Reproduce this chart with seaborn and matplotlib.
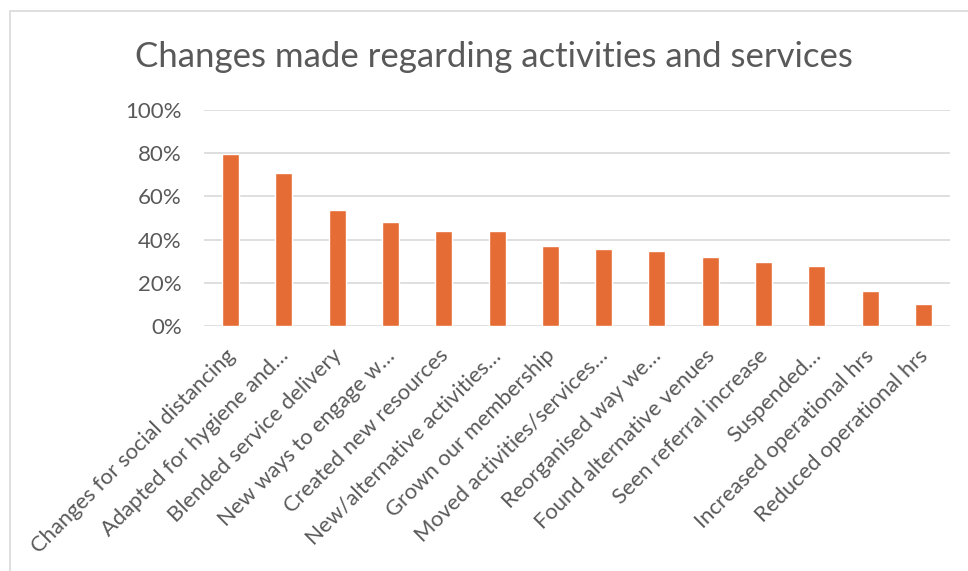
import matplotlib
matplotlib.use("Agg")
import matplotlib.pyplot as plt
from matplotlib.patches import Rectangle
from matplotlib.ticker import PercentFormatter
from matplotlib.transforms import ScaledTranslation
import seaborn as sns
import pandas as pd

categories = [
    "Changes for social distancing",
    "Adapted for hygiene and…",
    "Blended service delivery",
    "New ways to engage w…",
    "Created new resources",
    "New/alternative activities…",
    "Grown our membership",
    "Moved activities/services…",
    "Reorganised way we…",
    "Found alternative venues",
    "Seen referral increase",
    "Suspended…",
    "Increased operational hrs",
    "Reduced operational hrs",
]
shares = [0.795, 0.707, 0.535, 0.481, 0.440, 0.440, 0.372,
          0.356, 0.347, 0.318, 0.298, 0.278, 0.160, 0.100]
y_ticks = [0.0, 0.2, 0.4, 0.6, 0.8, 1.0]
title = "Changes made regarding activities and services"

df = pd.DataFrame({"category": categories, "share": shares})

sns.set_theme(style="white")
plt.rcParams["font.family"] = ["Lato", "DejaVu Sans"]

W, H = 968, 571
fig = plt.figure(figsize=(W / 100, H / 100), dpi=100)
ax = fig.add_axes([204 / W, 1 - 326 / H, (950 - 204) / W, (326 - 110) / H])

sns.barplot(data=df, x="category", y="share", color="#E56C35",
            saturation=1, width=0.32, ax=ax)

ax.set_ylim(0, 1)
ax.set_xlim(-0.5, len(categories) - 0.5)
ax.set_yticks(y_ticks)
ax.yaxis.set_major_formatter(PercentFormatter(1.0, decimals=0))
ax.grid(axis="y", color="#d9d9d9", linewidth=1.2)
ax.set_axisbelow(True)
for s in ax.spines.values():
    s.set_visible(False)
ax.set_xlabel("")
ax.set_ylabel("")
ax.tick_params(axis="y", length=0, pad=16, labelsize=16, labelcolor="#595959")
ax.tick_params(axis="x", length=0, pad=14, labelsize=15.8, labelcolor="#595959")
shift = ScaledTranslation(-6 / 100, 0, fig.dpi_scale_trans)
for lbl in ax.get_xticklabels():
    lbl.set_rotation(45)
    lbl.set_ha("right")
    lbl.set_va("top")
    lbl.set_rotation_mode("anchor")
    lbl.set_transform(lbl.get_transform() + shift)

fig.text(494 / W, 1 - 57 / H, title, ha="center", va="center",
         fontsize=25, color="#595959")

fig.patches.append(Rectangle((10 / W, -0.1), 1.2, 1 - 11 / H + 0.1,
                             transform=fig.transFigure, fill=False,
                             edgecolor="#d9d9d9", linewidth=1.2))

fig.savefig("out.png", dpi=100, facecolor="white")
